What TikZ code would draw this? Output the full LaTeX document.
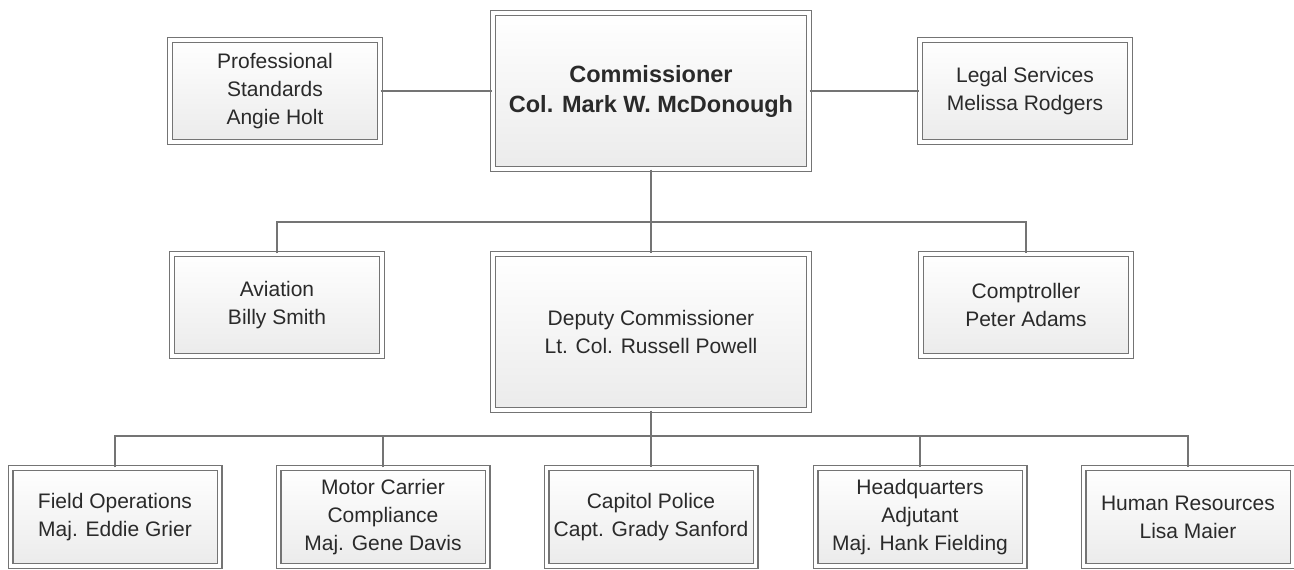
\documentclass[tikz,border=0pt]{standalone}
\usepackage{fontspec}
\setmainfont{Liberation Sans}
\usetikzlibrary{shadows}
\definecolor{edge}{HTML}{747474}
\definecolor{txt}{HTML}{2A2A2A}
\definecolor{shadeb}{HTML}{EBEBEB}
\tikzset{
  box/.style={draw=edge, line width=1.2pt, double=white, double distance=3.6pt,
    top color=white, bottom color=shadeb, text=txt, align=center,
    inner sep=0pt, font=\fontsize{21}{28}\selectfont,
    drop shadow={opacity=0.12, shadow xshift=2pt, shadow yshift=-2pt}},
  small/.style={box, minimum width=210pt, minimum height=102pt},
  big/.style={box, minimum width=316pt, minimum height=156pt},
  low/.style={box, minimum width=209pt, minimum height=98pt},
  link/.style={draw=edge, line width=1.3pt}
}
\begin{document}
\begin{tikzpicture}[x=1pt,y=-1pt]
\useasboundingbox (0,0) rectangle (1294,570);
% top row
\node[big, font=\bfseries\fontsize{23.5}{30}\selectfont] (comm) at (651,91) {Commissioner\\Col. Mark W. McDonough};
\node[small] (prof) at (275,91) {Professional\\Standards\\Angie Holt};
\node[small] (legal) at (1025,91) {Legal Services\\Melissa Rodgers};
% second row
\node[small] (avi) at (277,305) {Aviation\\Billy Smith};
\node[big] (dep) at (651,332) {Deputy Commissioner\\Lt. Col. Russell Powell};
\node[small] (comp) at (1026,305) {Comptroller\\Peter Adams};
% bottom row
\node[low] (field) at (115,517) {Field Operations\\Maj. Eddie Grier};
\node[low] (motor) at (383,517) {Motor Carrier\\Compliance\\Maj. Gene Davis};
\node[low] (cap) at (651,517) {Capitol Police\\Capt. Grady Sanford};
\node[low] (hq) at (920,517) {Headquarters\\Adjutant\\Maj. Hank Fielding};
\node[low] (hr) at (1188,517) {Human Resources\\Lisa Maier};
% buses
\coordinate (bus1) at (651,222);
\coordinate (bus2) at (651,436);
% connectors
\draw[link] (prof.east) -- (comm.west);
\draw[link] (comm.east) -- (legal.west);
\draw[link] (comm.south) -- (dep.north);
\draw[link] (avi.north) |- (bus1) -| (comp.north);
\draw[link] (dep.south) -- (cap.north);
\draw[link] (field.north) |- (bus2) -| (hr.north);
\draw[link] (motor.north) -- (motor.north |- bus2);
\draw[link] (hq.north) -- (hq.north |- bus2);
\end{tikzpicture}
\end{document}
